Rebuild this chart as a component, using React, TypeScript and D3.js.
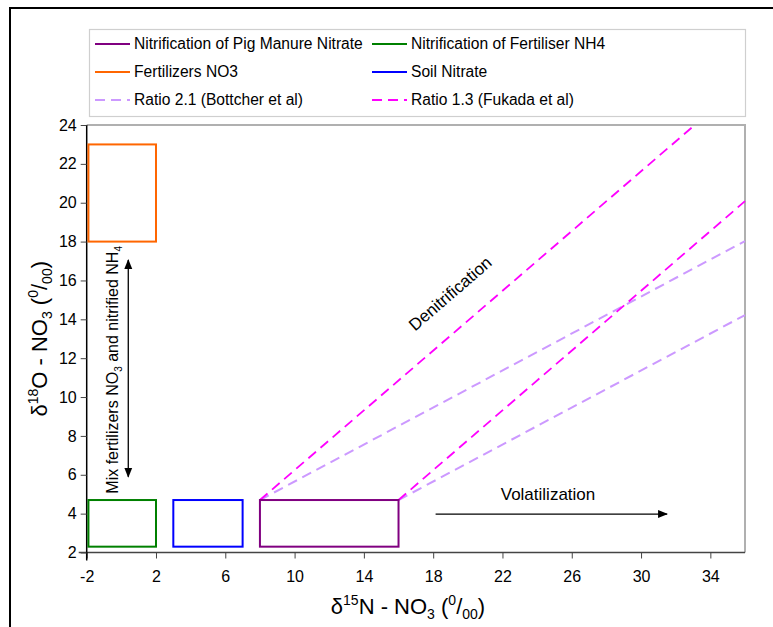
import React, { useEffect, useRef } from 'react';
import * as d3 from 'd3';

// source boxes: [x0, x1, y0, y1] in per-mil
const boxNames = ['Nitrification of Pig Manure Nitrate', 'Nitrification of Fertiliser NH4', 'Fertilizers NO3', 'Soil Nitrate'];
const boxColors = ['#800080', '#008000', '#FF6600', '#0000FF'];
const boxX0 = [8, -1.9, -1.9, 3];
const boxX1 = [16, 2, 2, 7];
const boxY0 = [2.3, 2.3, 18, 2.3];
const boxY1 = [4.7, 4.7, 23, 4.7];

// ratio lines, endpoints
const ratioNames = ['Ratio 2.1 (Bottcher et al)', 'Ratio 1.3 (Fukada et al)'];
const ratioColors = ['#CC99FF', '#FF00FF'];
const bottcherLines = [
  [[8, 4.7], [36, 18.03]],
  [[16, 4.7], [36, 14.22]],
];
const fukadaLines = [
  [[8, 4.7], [33.1, 24]],
  [[16, 4.7], [36, 20.08]],
];

const xTicks = [-2, 2, 6, 10, 14, 18, 22, 26, 30, 34];
const yTicks = [2, 4, 6, 8, 10, 12, 14, 16, 18, 20, 22, 24];

export default function App() {
  const svgRef = useRef<SVGSVGElement>(null);

  useEffect(() => {
    if (!svgRef.current) return;
    const svg = d3.select(svgRef.current);
    svg.selectAll('*').remove();

    const font = "'Liberation Sans', Arial, sans-serif";
    const x = d3.scaleLinear().domain([-2, 36]).range([86.7, 745]);
    const y = d3.scaleLinear().domain([2, 24]).range([552.5, 125]);

    // outer chart frame
    svg.append('rect')
      .attr('x', 10).attr('y', 8).attr('width', 800).attr('height', 700)
      .attr('fill', 'white').attr('stroke', '#000').attr('stroke-width', 2);

    // plot area frame (top/right)
    svg.append('path')
      .attr('d', `M${x(-2)},${y(24)}H${x(36)}V${y(2)}`)
      .attr('fill', 'none').attr('stroke', '#b0b0b0').attr('stroke-width', 2);

    const defs = svg.append('defs');
    defs.append('marker')
      .attr('id', 'arr')
      .attr('viewBox', '0 0 10 10')
      .attr('refX', 9).attr('refY', 5)
      .attr('markerWidth', 10).attr('markerHeight', 10)
      .attr('markerUnits', 'userSpaceOnUse')
      .attr('orient', 'auto-start-reverse')
      .append('path').attr('d', 'M0,1L10,5L0,9Z').attr('fill', '#000');

    // axes
    const xAxis = svg.append('g')
      .attr('transform', `translate(0,${y(2)})`)
      .call(d3.axisBottom(x).tickValues(xTicks).tickSize(6).tickSizeOuter(0).tickFormat(d => String(d)));
    xAxis.select('.domain').attr('stroke', '#444').attr('stroke-width', 1.5)
      .attr('d', `M${x(-2) - 8},0H${x(36)}`);
    xAxis.selectAll('.tick line').attr('stroke', '#444');
    xAxis.selectAll('.tick text')
      .attr('font-family', font).attr('font-size', 16).attr('fill', '#000').attr('dy', '1.3em');

    const yAxis = svg.append('g')
      .attr('transform', `translate(${x(-2)},0)`)
      .call(d3.axisLeft(y).tickValues(yTicks).tickSize(6).tickSizeOuter(0).tickFormat(d => String(d)));
    yAxis.select('.domain').attr('stroke', '#000').attr('stroke-width', 1.5)
      .attr('d', `M0,${y(24)}V${y(2) + 8}`);
    yAxis.selectAll('.tick line').attr('stroke', '#444');
    yAxis.selectAll('.tick text')
      .attr('font-family', font).attr('font-size', 16).attr('fill', '#000').attr('x', -10);

    // ratio lines
    const line = d3.line<number[]>().x(d => x(d[0])).y(d => y(d[1]));
    svg.append('g').selectAll('path')
      .data(bottcherLines).enter().append('path')
      .attr('d', d => line(d))
      .attr('fill', 'none').attr('stroke', ratioColors[0]).attr('stroke-width', 2)
      .attr('stroke-dasharray', '10,6');
    svg.append('g').selectAll('path')
      .data(fukadaLines).enter().append('path')
      .attr('d', d => line(d))
      .attr('fill', 'none').attr('stroke', ratioColors[1]).attr('stroke-width', 1.8)
      .attr('stroke-dasharray', '10,6');

    // boxes
    svg.append('g').selectAll('rect')
      .data(boxNames).enter().append('rect')
      .attr('x', (_, i) => x(boxX0[i]))
      .attr('y', (_, i) => y(boxY1[i]))
      .attr('width', (_, i) => x(boxX1[i]) - x(boxX0[i]))
      .attr('height', (_, i) => y(boxY0[i]) - y(boxY1[i]))
      .attr('fill', 'none').attr('stroke', (_, i) => boxColors[i]).attr('stroke-width', 2);

    // annotations
    svg.append('line')
      .attr('x1', x(0.4)).attr('x2', x(0.4)).attr('y1', y(17.05)).attr('y2', y(5.9))
      .attr('stroke', '#000').attr('stroke-width', 1.3)
      .attr('marker-start', 'url(#arr)').attr('marker-end', 'url(#arr)');
    const mix = svg.append('text')
      .attr('transform', `translate(118,${y(11.4)}) rotate(-90)`)
      .attr('text-anchor', 'middle').attr('font-family', font).attr('font-size', 16);
    mix.append('tspan').text('Mix fertilizers NO');
    mix.append('tspan').attr('font-size', 10).attr('dy', 4).text('3');
    mix.append('tspan').attr('dy', -4).text(' and nitrified NH');
    mix.append('tspan').attr('font-size', 10).attr('dy', 4).text('4');

    svg.append('line')
      .attr('x1', x(18.14)).attr('x2', x(31.5)).attr('y1', y(3.98)).attr('y2', y(3.98))
      .attr('stroke', '#000').attr('stroke-width', 1.3)
      .attr('marker-end', 'url(#arr)');
    svg.append('text')
      .attr('x', 548).attr('y', 500)
      .attr('text-anchor', 'middle').attr('font-family', font).attr('font-size', 17)
      .text('Volatilization');

    const ang = Math.atan2(y(24) - y(4.7), x(33.1) - x(8)) * 180 / Math.PI;
    svg.append('text')
      .attr('transform', `translate(454,298) rotate(${ang})`)
      .attr('text-anchor', 'middle').attr('font-family', font).attr('font-size', 17)
      .text('Denitrification');

    // axis titles
    const xt = svg.append('text')
      .attr('x', 408).attr('y', 614)
      .attr('text-anchor', 'middle').attr('font-family', font).attr('font-size', 22);
    xt.append('tspan').text('δ');
    xt.append('tspan').attr('font-size', 14).attr('dy', -9).text('15');
    xt.append('tspan').attr('dy', 9).text('N - NO');
    xt.append('tspan').attr('font-size', 14).attr('dy', 5).text('3');
    xt.append('tspan').attr('dy', -5).text(' (');
    xt.append('tspan').attr('font-size', 14).attr('dy', -9).text('0');
    xt.append('tspan').attr('dy', 9).text('/');
    xt.append('tspan').attr('font-size', 14).attr('dy', 5).text('00');
    xt.append('tspan').attr('dy', -5).text(')');

    const yt = svg.append('text')
      .attr('transform', `translate(47,${y(13)}) rotate(-90)`)
      .attr('text-anchor', 'middle').attr('font-family', font).attr('font-size', 22);
    yt.append('tspan').text('δ');
    yt.append('tspan').attr('font-size', 14).attr('dy', -9).text('18');
    yt.append('tspan').attr('dy', 9).text('O - NO');
    yt.append('tspan').attr('font-size', 14).attr('dy', 5).text('3');
    yt.append('tspan').attr('dy', -5).text(' (');
    yt.append('tspan').attr('font-size', 14).attr('dy', -9).text('0');
    yt.append('tspan').attr('dy', 9).text('/');
    yt.append('tspan').attr('font-size', 14).attr('dy', 5).text('00');
    yt.append('tspan').attr('dy', -5).text(')');

    // legend
    const lg = svg.append('g');
    lg.append('rect')
      .attr('x', 89.5).attr('y', 29.5).attr('width', 656).attr('height', 87)
      .attr('fill', 'white').attr('stroke', '#cfcfcf').attr('stroke-width', 1.2);
    const items = [
      { name: boxNames[0], color: boxColors[0], dash: null },
      { name: boxNames[1], color: boxColors[1], dash: null },
      { name: boxNames[2], color: boxColors[2], dash: null },
      { name: boxNames[3], color: boxColors[3], dash: null },
      { name: ratioNames[0], color: ratioColors[0], dash: '10,6' },
      { name: ratioNames[1], color: ratioColors[1], dash: '10,6' },
    ];
    const colX = [95, 372];
    const rowY = [44, 72, 100];
    items.forEach((it, i) => {
      const cx = colX[i % 2];
      const cy = rowY[Math.floor(i / 2)];
      lg.append('line')
        .attr('x1', cx).attr('x2', cx + 35).attr('y1', cy).attr('y2', cy)
        .attr('stroke', it.color).attr('stroke-width', 2)
        .attr('stroke-dasharray', it.dash);
      lg.append('text')
        .attr('x', cx + 39).attr('y', cy).attr('dy', '0.35em')
        .attr('font-family', font).attr('font-size', 15.6)
        .text(it.name);
    });
  }, []);

  return (
    <svg ref={svgRef} width={773} height={627}
      style={{ position: 'absolute', left: 0, top: 0, background: 'white' }} />
  );
}
